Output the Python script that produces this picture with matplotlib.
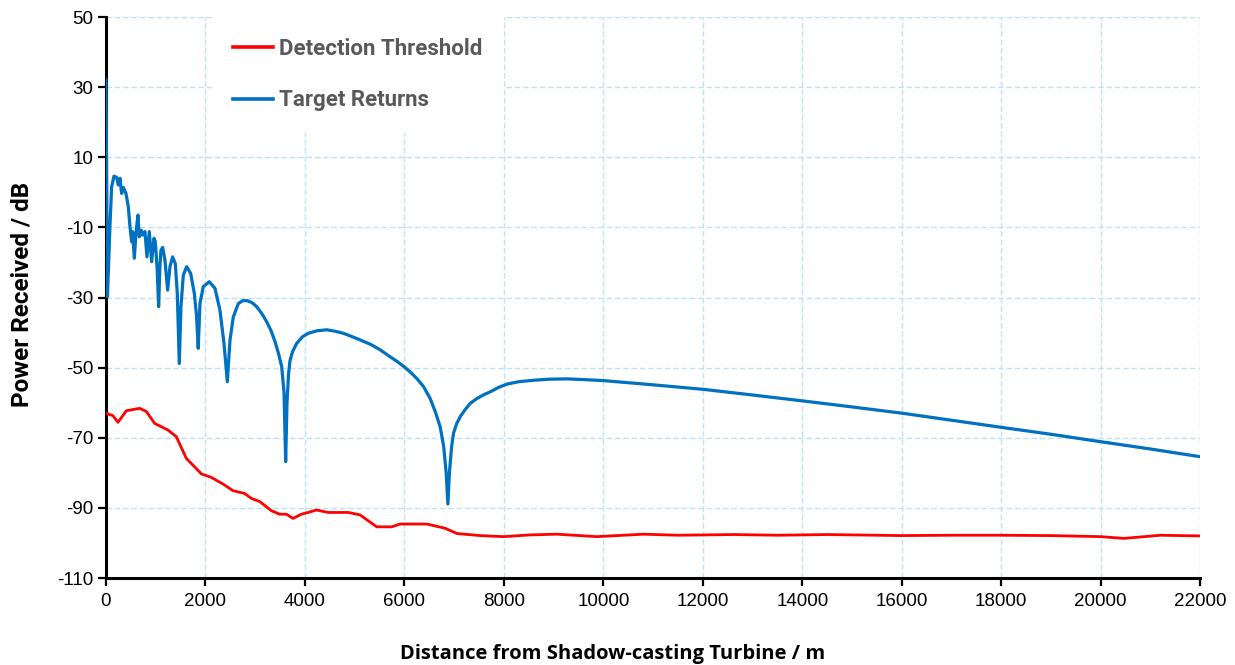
import matplotlib
matplotlib.use("Agg")
import matplotlib.pyplot as plt

plt.rcParams["axes.unicode_minus"] = False

# Target returns (distance in m, power in dB)
target_dist = [0, 30, 80, 114, 161, 214, 248, 282, 315, 349, 402, 449, 483, 516, 536, 570,
               603, 643, 670, 710, 737, 784, 824, 871, 918, 965, 992, 1030, 1059, 1085, 1106,
               1140, 1186, 1240, 1287, 1340, 1394, 1434, 1474, 1508, 1555, 1622, 1703, 1776,
               1820, 1855, 1890, 1957, 2078, 2192, 2292, 2373, 2440, 2494, 2561, 2662, 2750,
               2843, 2940, 3030, 3130, 3231, 3320, 3399, 3470, 3533, 3580, 3613, 3640, 3670,
               3700, 3750, 3834, 3950, 4068, 4237, 4440, 4600, 4775, 5044, 5312, 5500, 5714,
               5850, 6000, 6130, 6250, 6385, 6518, 6620, 6720, 6790, 6840, 6875, 6905, 6950,
               6988, 7050, 7122, 7220, 7324, 7458, 7600, 7726, 7900, 8062, 8300, 8600, 8900,
               9270, 9600, 10006, 11000, 12017, 13000, 14015, 15000, 16012, 17000, 17988,
               19000, 19988, 21000, 22000]
target_db = [32.0, -29.8, -9.8, 1.6, 4.6, 4.3, 2.1, 4.0, -0.3, 1.4, -0.3, -4.1, -9.8, -14.1,
             -11.2, -18.8, -11.7, -6.5, -12.7, -10.8, -12.2, -11.2, -18.4, -11.2, -19.8, -13.1,
             -14.1, -22.0, -32.6, -21.0, -16.5, -15.7, -19.3, -27.9, -21.2, -18.4, -20.3, -28.8,
             -48.8, -32.6, -23.6, -21.2, -23.1, -28.8, -35.0, -44.5, -31.7, -26.9, -25.5, -27.4,
             -33.6, -43.1, -54.0, -42.1, -35.5, -31.7, -30.9, -30.9, -31.5, -32.6, -34.5, -36.9,
             -39.5, -42.6, -46.0, -49.7, -57.0, -76.8, -60.0, -52.0, -48.0, -45.5, -43.1, -41.2,
             -40.2, -39.5, -39.2, -39.6, -40.2, -41.7, -43.3, -44.8, -46.9, -48.2, -49.8, -51.4,
             -53.1, -55.4, -58.8, -62.5, -66.9, -72.5, -80.0, -88.9, -80.0, -72.5, -68.7, -66.0,
             -64.0, -62.0, -60.2, -58.8, -57.7, -56.9, -55.6, -54.7, -54.0, -53.6, -53.3, -53.2,
             -53.4, -53.7, -54.9, -56.2, -57.8, -59.5, -61.2, -63.0, -65.0, -67.0, -69.0, -71.1,
             -73.2, -75.4]

# Detection threshold (distance in m, power in dB)
thresh_dist = [0, 141, 241, 409, 678, 811, 979, 1247, 1415, 1616, 1783, 1918, 2119, 2354,
               2555, 2790, 2924, 3092, 3326, 3494, 3628, 3761, 3929, 4064, 4232, 4467, 4873,
               5109, 5444, 5746, 5913, 6450, 6819, 7055, 7524, 7993, 8530, 9066, 9870, 10540,
               10807, 11500, 12620, 13500, 14500, 16000, 17000, 18000, 19000, 20000, 20470,
               21200, 22000]
thresh_db = [-63.0, -63.7, -65.6, -62.3, -61.6, -62.5, -65.9, -67.8, -69.7, -75.9, -78.3, -80.3,
             -81.3, -83.2, -85.1, -85.9, -87.3, -88.2, -90.8, -91.8, -91.8, -93.0, -91.8, -91.3,
             -90.6, -91.3, -91.3, -92.0, -95.4, -95.4, -94.6, -94.6, -95.8, -97.3, -97.9, -98.2,
             -97.7, -97.5, -98.2, -97.7, -97.5, -97.8, -97.6, -97.8, -97.6, -97.9, -97.8, -97.8,
             -97.9, -98.2, -98.7, -97.8, -98.0]

x_ticks = list(range(0, 22001, 2000))
y_ticks = list(range(-110, 51, 20))

label_font = ["Roboto", "DejaVu Sans"]

fig = plt.figure(figsize=(12.35, 6.65), dpi=100)
ax = fig.add_axes([0.0858, 0.1308, 0.8860, 0.8436])

ax.plot(thresh_dist, thresh_db, color="#FF0000", lw=2.0, label="Detection Threshold", zorder=3)
ax.plot(target_dist, target_db, color="#0070C0", lw=2.3, label="Target Returns", zorder=4,
        solid_joinstyle="round")

ax.set_xlim(0, 22000)
ax.set_ylim(-110, 50)
ax.set_xticks(x_ticks)
ax.set_yticks(y_ticks)
ax.tick_params(axis="both", direction="out", length=6, width=1.6, color="black",
               labelsize=13.5, labelcolor="black")
ax.tick_params(axis="x", pad=5)
ax.tick_params(axis="y", pad=3)
for lab in ax.get_xticklabels() + ax.get_yticklabels():
    lab.set_family(["Liberation Sans", "DejaVu Sans"])

ax.grid(True, color="#BFE1F5", linestyle=(0, (4, 2)), linewidth=1.0, zorder=0)
ax.set_axisbelow(True)

for side in ("top", "right"):
    ax.spines[side].set_visible(False)
for side in ("left", "bottom"):
    ax.spines[side].set_linewidth(2.2)
    ax.spines[side].set_color("black")

ax.set_xlabel("Distance from Shadow-casting Turbine / m", fontsize=14.5, fontweight="bold",
              family=["Open Sans", "DejaVu Sans"])
ax.xaxis.set_label_coords(0.4634, -0.117)
ax.set_ylabel("Power Received / dB", fontsize=17.5, fontweight="bold", family=label_font)
ax.yaxis.set_label_coords(-0.0665, 0.505)

leg = ax.legend(loc="upper left", bbox_to_anchor=(0.0969, 1.0), frameon=True, fancybox=False,
                framealpha=1.0, facecolor="white", edgecolor="none", handlelength=1.8,
                handletextpad=0.28, labelspacing=1.32, borderpad=0.95, borderaxespad=0.0,
                prop={"family": label_font, "weight": "bold", "size": 16})
for t in leg.get_texts():
    t.set_color("#595959")
for h in leg.get_lines():
    h.set_linewidth(2.6)

fig.savefig("out.png", dpi=100)
